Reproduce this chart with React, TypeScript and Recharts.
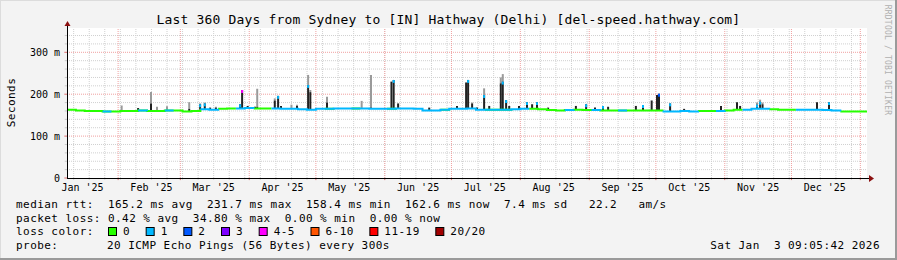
import React from 'react';
import { ComposedChart, Line, XAxis, YAxis, ReferenceLine } from 'recharts';

const MONO = '"DejaVu Sans Mono", monospace';

const titleText = 'Last 360 Days from Sydney to [IN] Hathway (Delhi) [del-speed.hathway.com]';

// x axis: days since the left edge of the plot (9 Jan 2025)
const monthLabels = ["Jan '25", "Feb '25", "Mar '25", "Apr '25", "May '25", "Jun '25", "Jul '25", "Aug '25", "Sep '25", "Oct '25", "Nov '25", "Dec '25"];
const monthLabelDays = [7, 38, 66, 97, 127, 158, 188, 219, 250, 280, 311, 341];
const monthStartDays = [23, 51, 82, 112, 143, 173, 204, 235, 265, 296, 326, 357];
const firstSundayDay = 3;
const xMaxDay = 360;

const yTickValues = [0, 100, 200, 300];
const yTickLabels = ['0', '100 m', '200 m', '300 m'];
const yMinorGridMs = [20, 40, 60, 80, 120, 140, 160, 180, 220, 240, 260, 280, 320, 340];
const yMajorGridMs = [100, 200, 300];
const yMaxMs = 358;

// median rtt (ms), one value every 4 days, plus the loss class of each period
const medianStepDays = 4;
const medianMs = [
  163, 161, 160, 160, 159, 159, 160, 160, 161, 160,
  160, 161, 161, 159, 160, 164, 163, 165, 166, 166,
  167, 166, 166, 166, 165, 165, 164, 163, 165, 165,
  166, 166, 166, 166, 165, 165, 165, 166, 166, 165,
  161, 161, 163, 165, 165, 166, 163, 163, 163, 163,
  164, 165, 165, 164, 162, 161, 162, 163, 162, 162,
  161, 161, 161, 161, 161, 161, 161, 159, 159, 160,
  159, 160, 160, 160, 161, 163, 163, 165, 165, 164,
  163, 163, 163, 163, 163, 162, 161, 159, 159, 159,
  159,
];
const medianLoss = [
  0, 0, 0, 0, 1, 0, 0, 0, 1, 0,
  0, 1, 0, 0, 0, 1, 1, 0, 0, 1,
  1, 0, 0, 1, 1, 1, 1, 1, 1, 0,
  1, 1, 0, 1, 1, 1, 0, 1, 1, 1,
  1, 1, 0, 1, 1, 1, 1, 0, 1, 0,
  1, 1, 0, 0, 0, 0, 1, 0, 0, 1,
  0, 0, 1, 0, 0, 0, 0, 1, 1, 1,
  1, 0, 0, 1, 0, 0, 1, 1, 1, 0,
  0, 0, 1, 1, 1, 1, 1, 0, 0, 0,
  0,
];

// smoke spikes: day, median at that time, top of dense smoke, top of light smoke, loss class of median tip (-1 none)
const spikeDay = [24.6, 32, 37.8, 40.5, 45, 55, 59.9, 62, 64.4, 67, 77.9, 78.8, 81.3, 84.6, 85.6, 93.5, 95, 96.3, 101, 103.5, 108.5, 109.5, 117, 132.6, 136.8, 146, 147, 149, 163, 175.5, 179.6, 180.5, 182.3, 184.5, 187.7, 190, 195.2, 196.1, 197.6, 199, 203.4, 207, 209.3, 211.5, 216.5, 229, 233.6, 237.6, 241.2, 243.5, 256, 259.2, 263.1, 265.5, 266.4, 271.4, 277.7, 294.3, 301.5, 302.9, 310.5, 311.9, 313, 337.5, 342.9];
const spikeBaseMs = [160, 160, 160, 160, 161, 160, 163, 163, 163, 164, 166, 166, 166, 166, 166, 166, 166, 165, 165, 165, 164, 164, 165, 166, 166, 165, 165, 165, 161, 165, 166, 166, 165, 163, 163, 163, 163, 163, 163, 163, 164, 165, 165, 164, 162, 163, 162, 162, 161, 161, 161, 161, 161, 160, 160, 159, 160, 160, 163, 163, 165, 165, 165, 163, 162];
const spikeDarkMs = [160, 167, 178, 160, 161, 165, 176, 178, 168, 168, 176, 210, 172, 170, 170, 185, 196, 172, 165, 172, 222, 205, 180, 166, 168, 230, 234, 178, 168, 172, 228, 234, 178, 168, 198, 172, 226, 230, 186, 172, 172, 181, 176, 181, 168, 172, 176, 168, 172, 170, 172, 174, 185, 198, 201, 178, 165, 172, 181, 172, 175, 182, 176, 181, 181];
const spikeGrayMs = [173, 167, 205, 170, 171, 181, 178, 180, 168, 170, 176, 210, 172, 170, 213, 190, 196, 172, 175, 175, 246, 210, 194, 184, 246, 230, 234, 178, 168, 172, 228, 234, 180, 168, 214, 172, 240, 248, 186, 172, 172, 181, 176, 181, 168, 172, 176, 168, 172, 170, 172, 174, 185, 198, 201, 178, 165, 172, 181, 172, 180, 187, 180, 181, 181];
const spikeCapLoss = [-1, -1, -1, -1, -1, -1, 1, 1, -1, -1, 1, 4, -1, -1, -1, -1, 1, -1, -1, -1, 1, -1, -1, -1, -1, -1, 1, -1, -1, -1, -1, 1, -1, -1, 1, -1, -1, 1, 1, -1, -1, 1, -1, 1, -1, -1, 1, -1, 1, -1, -1, 1, -1, -1, 2, 1, -1, -1, -1, -1, 1, 1, -1, -1, 1];

const lossColors = ['#26ff00', '#00b8ff', '#0059ff', '#7e00ff', '#ff00ff', '#ff5500', '#ff0000', '#a10000'];
const lossLabels = ['0', '1', '2', '3', '4-5', '6-10', '11-19', '20/20'];

const rttLegend = 'median rtt:  165.2 ms avg  231.7 ms max  158.4 ms min  162.6 ms now  7.4 ms sd   22.2   am/s';
const lossLegend = 'packet loss: 0.42 % avg  34.80 % max  0.00 % min  0.00 % now';
const probeText = '20 ICMP Echo Pings (56 Bytes) every 300s';
const stampText = 'Sat Jan  3 09:05:42 2026';

const CAP_MS = 7;
const MINOR = '#d0d0d0';
const MAJOR = '#f0a0a0';

const medianRows = medianMs.map((v, i) => ({ d: Math.min(i * medianStepDays, xMaxDay), v, loss: medianLoss[i] }));
const seriesFor = (c: number) =>
  medianRows.map((r, i) => ({
    d: r.d,
    v: (i < medianRows.length - 1 && r.loss === c) || (i > 0 && medianRows[i - 1].loss === c) ? r.v : null,
  }));
const usedClasses = lossColors.map((_, c) => c).filter((c) => medianLoss.slice(0, medianLoss.length - 1).includes(c));

const weekDays: number[] = [];
for (let d = firstSundayDay; d < xMaxDay; d += 7) weekDays.push(d);

const CHAR_W = 7.07;

export default function App() {
  const txt = { fontFamily: MONO, fontSize: 11, letterSpacing: 0.45, fill: '#000' } as const;
  let lx = 108;
  const legendItems = lossLabels.map((lab, i) => {
    const bx = lx;
    lx += 15 + lab.length * CHAR_W + 15.6;
    return (
      <g key={i}>
        <rect x={bx + 0.5} y={227.5} width={8} height={8} fill={lossColors[i]} stroke="#000" strokeWidth={1} />
        <text x={bx + 15} y={235.4} {...txt}>{lab}</text>
      </g>
    );
  });
  return (
    <div style={{ position: 'absolute', left: 0, top: 0, width: 897, height: 260, background: '#f3f3f3', overflow: 'hidden' }}>
      <div style={{ position: 'absolute', left: 67, top: 28, width: 800, height: 150, background: '#ffffff' }} />
      <div style={{ position: 'absolute', left: 0, top: 0 }}>
        <ComposedChart width={897} height={260} data={medianRows} margin={{ top: 28, right: 30, bottom: 52, left: 7 }}>
          <XAxis
            dataKey="d"
            type="number"
            domain={[0, xMaxDay]}
            ticks={monthLabelDays}
            interval={0}
            tickFormatter={(v: number) => monthLabels[monthLabelDays.indexOf(v)] ?? ''}
            axisLine={false}
            tickLine={false}
            tickSize={0}
            tickMargin={6}
            height={30}
            allowDataOverflow
            tick={{ fontFamily: MONO, fontSize: 10, fill: '#000' }}
          />
          <YAxis
            type="number"
            domain={[0, yMaxMs]}
            ticks={yTickValues}
            interval={0}
            tickFormatter={(v: number) => yTickLabels[yTickValues.indexOf(v)] ?? ''}
            axisLine={false}
            tickLine={false}
            tickSize={0}
            tickMargin={7}
            width={60}
            allowDataOverflow
            tick={{ fontFamily: MONO, fontSize: 10, fill: '#000' }}
          />
          {yMinorGridMs.map((v) => (
            <ReferenceLine key={'hy' + v} y={v} stroke={MINOR} strokeDasharray="1 1" />
          ))}
          {weekDays.map((d) => (
            <ReferenceLine key={'vx' + d} x={d} stroke={MINOR} strokeDasharray="1 1" />
          ))}
          {yMajorGridMs.map((v) => (
            <ReferenceLine key={'my' + v} y={v} stroke={MAJOR} strokeDasharray="1 1" />
          ))}
          {monthStartDays.map((d) => (
            <ReferenceLine key={'mx' + d} x={d} stroke={MAJOR} strokeDasharray="1 1" />
          ))}
          {weekDays.map((d) => (
            <ReferenceLine key={'tx' + d} segment={[{ x: d, y: 0 }, { x: d, y: -4 }]} stroke="#c8c8c8" ifOverflow="visible" />
          ))}
          {monthStartDays.map((d) => (
            <ReferenceLine key={'tmx' + d} segment={[{ x: d, y: 0 }, { x: d, y: -5 }]} stroke="#e07070" ifOverflow="visible" />
          ))}
          {yMinorGridMs.map((v) => (
            <ReferenceLine key={'ty' + v} segment={[{ x: 0, y: v }, { x: -1, y: v }]} stroke="#c8c8c8" ifOverflow="visible" />
          ))}
          {yTickValues.map((v) => (
            <ReferenceLine key={'tmy' + v} segment={[{ x: 0, y: v }, { x: -1.2, y: v }]} stroke="#e07070" ifOverflow="visible" />
          ))}
          {spikeDay.map((d, i) =>
            spikeGrayMs[i] > spikeDarkMs[i] ? (
              <ReferenceLine
                key={'sg' + i}
                segment={[{ x: d, y: spikeDarkMs[i] }, { x: d, y: spikeGrayMs[i] }]}
                stroke="#9a9a9a"
                strokeWidth={2}
              />
            ) : null
          )}
          {spikeDay.map((d, i) =>
            spikeDarkMs[i] > spikeBaseMs[i] ? (
              <ReferenceLine
                key={'sd' + i}
                segment={[{ x: d, y: spikeBaseMs[i] }, { x: d, y: spikeDarkMs[i] }]}
                stroke="#222222"
                strokeWidth={2}
              />
            ) : null
          )}
          {spikeDay.map((d, i) =>
            spikeCapLoss[i] >= 0 ? (
              <ReferenceLine
                key={'sc' + i}
                segment={[{ x: d, y: Math.max(spikeBaseMs[i], spikeDarkMs[i] - CAP_MS) }, { x: d, y: spikeDarkMs[i] }]}
                stroke={lossColors[spikeCapLoss[i]]}
                strokeWidth={2}
              />
            ) : null
          )}
          {usedClasses.map((c) => (
            <Line
              key={'l' + c}
              data={seriesFor(c)}
              dataKey="v"
              type="stepAfter"
              stroke={lossColors[c]}
              strokeWidth={2}
              dot={false}
              connectNulls={false}
              isAnimationActive={false}
            />
          ))}
        </ComposedChart>
      </div>
      <svg width={897} height={260} style={{ position: 'absolute', left: 0, top: 0, pointerEvents: 'none' }}>
        <line x1={0.5} y1={0} x2={0.5} y2={260} stroke="#dcdcdc" />
        <line x1={0} y1={0.5} x2={897} y2={0.5} stroke="#dcdcdc" />
        <line x1={896} y1={0} x2={896} y2={260} stroke="#9a9a9a" strokeWidth={2} />
        <line x1={0} y1={259} x2={897} y2={259} stroke="#9a9a9a" strokeWidth={2} />
        <line x1={67} y1={178.5} x2={870} y2={178.5} stroke="#000" />
        <line x1={67.5} y1={178} x2={67.5} y2={25} stroke="#000" />
        <polygon points="869,175 869,182 874,178.5" fill="#8b1010" />
        <polygon points="64.5,26 70.5,26 67.5,21" fill="#8b1010" />
        <text x={448.5} y={24} textAnchor="middle" fontFamily={MONO} fontSize={13} letterSpacing={0.17} fill="#000">{titleText}</text>
        <text transform="translate(15,102.5) rotate(-90)" textAnchor="middle" {...txt}>Seconds</text>
        <text transform="translate(885,60) rotate(90)" textAnchor="middle" fontFamily={MONO} fontSize={8} letterSpacing={0.2} fill="#b0b0b0">RRDTOOL / TOBI OETIKER</text>
        <text x={16} y={208} {...txt} style={{ whiteSpace: 'pre' }}>{rttLegend}</text>
        <text x={16} y={221.7} {...txt} style={{ whiteSpace: 'pre' }}>{lossLegend}</text>
        <text x={16} y={235.4} {...txt}>loss color:</text>
        {legendItems}
        <text x={16} y={249} {...txt}>probe:</text>
        <text x={107} y={249} {...txt}>{probeText}</text>
        <text x={880} y={249} textAnchor="end" {...txt} style={{ whiteSpace: 'pre' }}>{stampText}</text>
      </svg>
    </div>
  );
}
